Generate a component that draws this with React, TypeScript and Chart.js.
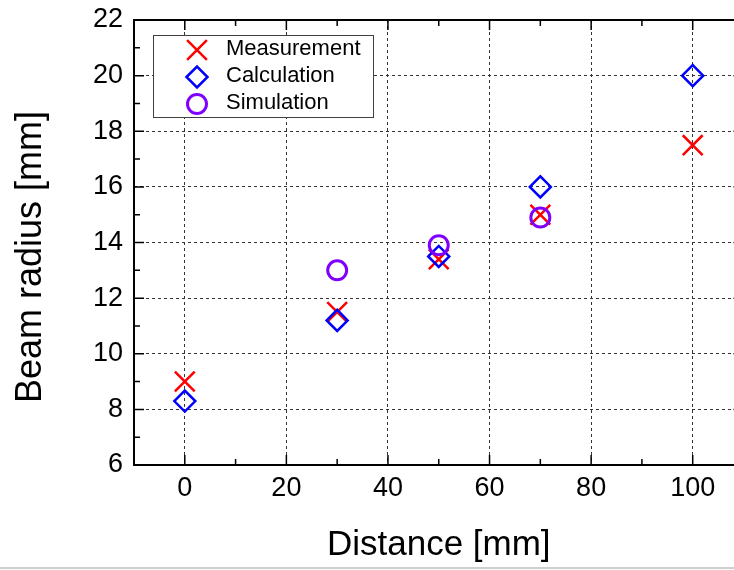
import { useEffect, useRef } from "react";
import { Chart, registerables } from "chart.js";

Chart.register(...registerables);

// Beam radius along the propagation distance
const distances = [0, 30, 50, 70, 100];
const measurement = [9.0, 11.5, 13.4, 15.0, 17.5];
const calculation = [8.3, 11.2, 13.5, 16.0, 20.0];
const simDistances = [30, 50, 70];
const simulation = [13.0, 13.9, 14.9];

const seriesNames = ["Measurement", "Calculation", "Simulation"];
const xMajorTicks = [0, 20, 40, 60, 80, 100];
const xMinorTicks = [10, 30, 50, 70, 90];
const yMajorTicks = [6, 8, 10, 12, 14, 16, 18, 20, 22];
const yMinorTicks = [7, 9, 11, 13, 15, 17, 19, 21];

const xTitle = "Distance [mm]";
const yTitle = "Beam radius [mm]";

const FONT = "'Liberation Sans', Arial, sans-serif";
const RED = "#ff0000";
const BLUE = "#0000ff";
const PURPLE = "#8000ff";

const CANVAS_W = 760;
const CANVAS_H = 570;

type MarkerKind = "cross" | "diamond" | "circle";

function drawMarker(ctx: CanvasRenderingContext2D, kind: MarkerKind, x: number, y: number, color: string) {
  ctx.save();
  ctx.strokeStyle = color;
  ctx.setLineDash([]);
  ctx.beginPath();
  if (kind === "cross") {
    const h = 9.9;
    ctx.lineWidth = 2.5;
    ctx.moveTo(x - h, y - h);
    ctx.lineTo(x + h, y + h);
    ctx.moveTo(x - h, y + h);
    ctx.lineTo(x + h, y - h);
  } else if (kind === "diamond") {
    const r = 10.5;
    ctx.lineWidth = 2.5;
    ctx.moveTo(x - r, y);
    ctx.lineTo(x, y - r);
    ctx.lineTo(x + r, y);
    ctx.lineTo(x, y + r);
    ctx.closePath();
  } else {
    ctx.lineWidth = 3;
    ctx.arc(x, y, 9.5, 0, Math.PI * 2);
  }
  ctx.stroke();
  ctx.restore();
}

// Solid frame with inward major/minor ticks on every side
const framePlugin = {
  id: "frame",
  afterDatasetsDraw(chart: any) {
    const { ctx, chartArea } = chart;
    const { left, right, top, bottom } = chartArea;
    const xs = chart.scales.x;
    const ys = chart.scales.y;
    ctx.save();
    ctx.setLineDash([]);
    ctx.strokeStyle = "#000";
    ctx.lineWidth = 1.5;
    ctx.beginPath();
    const major = 10;
    const minor = 6;
    const xTick = (v: number, len: number) => {
      const px = xs.getPixelForValue(v);
      ctx.moveTo(px, bottom);
      ctx.lineTo(px, bottom - len);
      ctx.moveTo(px, top);
      ctx.lineTo(px, top + len);
    };
    const yTick = (v: number, len: number) => {
      const py = ys.getPixelForValue(v);
      ctx.moveTo(left, py);
      ctx.lineTo(left + len, py);
      ctx.moveTo(right, py);
      ctx.lineTo(right - len, py);
    };
    xMajorTicks.forEach((v) => xTick(v, major));
    xMinorTicks.forEach((v) => xTick(v, minor));
    yMajorTicks.forEach((v) => yTick(v, major));
    yMinorTicks.forEach((v) => yTick(v, minor));
    ctx.stroke();
    ctx.lineWidth = 2;
    ctx.strokeRect(left, top, right - left, bottom - top);
    ctx.restore();
  },
  afterDraw(chart: any) {
    const { ctx } = chart;
    ctx.save();

    // legend box
    const bx = 153.5;
    const by = 35.5;
    const bw = 220;
    const bh = 82;
    ctx.fillStyle = "#ffffff";
    ctx.fillRect(bx, by, bw, bh);
    ctx.strokeStyle = "#404040";
    ctx.lineWidth = 1;
    ctx.setLineDash([]);
    ctx.strokeRect(bx, by, bw, bh);
    const kinds: MarkerKind[] = ["cross", "diamond", "circle"];
    const colors = [RED, BLUE, PURPLE];
    const rows = [50, 77, 104];
    ctx.font = `22px ${FONT}`;
    ctx.textAlign = "left";
    ctx.textBaseline = "middle";
    seriesNames.forEach((name, i) => {
      drawMarker(ctx, kinds[i], 197, rows[i], colors[i]);
      ctx.fillStyle = "#000";
      ctx.fillText(name, 226, rows[i] - 1);
    });

    // vertical axis title
    ctx.save();
    ctx.translate(31, 257);
    ctx.rotate(-Math.PI / 2);
    ctx.font = `36px ${FONT}`;
    ctx.textAlign = "center";
    ctx.textBaseline = "middle";
    ctx.fillStyle = "#000";
    ctx.fillText(yTitle, 0, 0);
    ctx.restore();

    // thin grey rule along the bottom edge
    ctx.fillStyle = "#cfcfcf";
    ctx.fillRect(0, 567, CANVAS_W, 2);
    ctx.restore();
  },
};

export default function App() {
  const canvasRef = useRef<HTMLCanvasElement | null>(null);

  useEffect(() => {
    const canvas = canvasRef.current;
    if (!canvas) return;
    const gridStyle = { color: "#333333", lineWidth: 1, drawTicks: false };
    const chart = new Chart(canvas, {
      type: "scatter",
      data: {
        datasets: [
          {
            label: seriesNames[0],
            data: distances.map((d, i) => ({ x: d, y: measurement[i] })),
            pointStyle: "crossRot",
            pointRadius: 14,
            borderColor: RED,
            backgroundColor: "transparent",
            borderWidth: 2.5,
            order: 3,
          },
          {
            label: seriesNames[1],
            data: distances.map((d, i) => ({ x: d, y: calculation[i] })),
            pointStyle: "rectRot",
            pointRadius: 10.5,
            borderColor: BLUE,
            backgroundColor: "transparent",
            borderWidth: 2.5,
            order: 2,
          },
          {
            label: seriesNames[2],
            data: simDistances.map((d, i) => ({ x: d, y: simulation[i] })),
            pointStyle: "circle",
            pointRadius: 9.5,
            borderColor: PURPLE,
            backgroundColor: "transparent",
            borderWidth: 3,
            order: 1,
          },
        ],
      },
      options: {
        responsive: false,
        animation: false,
        devicePixelRatio: 1,
        layout: { padding: { top: 20, right: 16, left: 0, bottom: 0 } },
        plugins: {
          legend: { display: false },
          tooltip: { enabled: false },
        },
        scales: {
          x: {
            type: "linear",
            min: -10,
            max: 110,
            afterBuildTicks: (s: any) => {
              s.ticks = xMajorTicks.map((v) => ({ value: v }));
            },
            afterFit: (s: any) => {
              s.height = 105;
              s.paddingLeft = 0;
              s.paddingRight = 0;
            },
            grid: gridStyle,
            border: { display: false, dash: [3, 3] },
            ticks: {
              color: "#000",
              font: { family: FONT, size: 27 },
              padding: 7,
              maxRotation: 0,
              autoSkip: false,
            },
            title: {
              display: true,
              text: xTitle,
              color: "#000",
              font: { family: FONT, size: 35 },
              padding: { top: 0, bottom: 4 },
            },
          },
          y: {
            type: "linear",
            min: 6,
            max: 22,
            afterBuildTicks: (s: any) => {
              s.ticks = yMajorTicks.map((v) => ({ value: v }));
            },
            afterFit: (s: any) => {
              s.width = 134;
              s.paddingTop = 0;
              s.paddingBottom = 0;
            },
            grid: gridStyle,
            border: { display: false, dash: [3, 3] },
            ticks: {
              color: "#000",
              font: { family: FONT, size: 27 },
              padding: 11,
              autoSkip: false,
            },
          },
        },
      },
      plugins: [framePlugin],
    } as any);
    return () => chart.destroy();
  }, []);

  return (
    <div
      style={{
        position: "fixed",
        left: 0,
        top: 0,
        width: 734,
        height: 570,
        overflow: "hidden",
        background: "#ffffff",
      }}
    >
      <canvas
        ref={canvasRef}
        width={CANVAS_W}
        height={CANVAS_H}
        style={{ display: "block", width: CANVAS_W, height: CANVAS_H }}
      />
    </div>
  );
}
